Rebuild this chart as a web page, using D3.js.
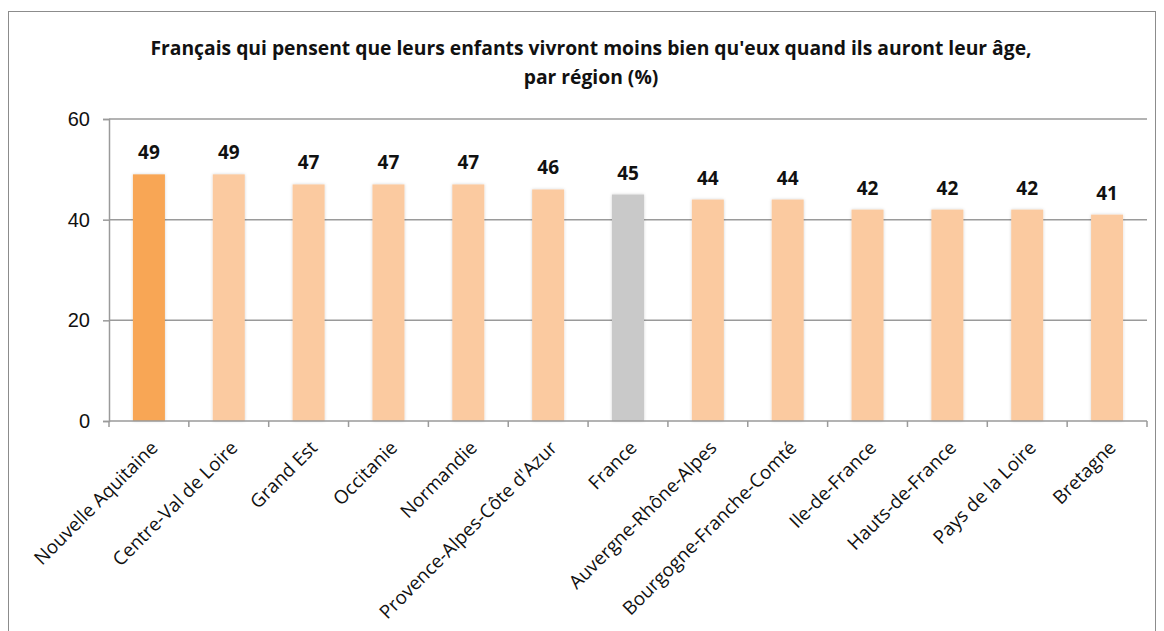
<!DOCTYPE html>
<html>
<head>
<meta charset="utf-8">
<script src="https://cdn.jsdelivr.net/npm/d3@7"></script>
<style>
  body { margin: 0; background: #fff; }
  svg { display: block; font-family: "Open Sans", "Liberation Sans", sans-serif; }
</style>
</head>
<body>
<svg id="chart"></svg>
<script>
// data
var regions = ["Nouvelle Aquitaine", "Centre-Val de Loire", "Grand Est", "Occitanie", "Normandie",
  "Provence-Alpes-Côte d'Azur", "France", "Auvergne-Rhône-Alpes", "Bourgogne-Franche-Comté",
  "Ile-de-France", "Hauts-de-France", "Pays de la Loire", "Bretagne"];
var values = [49, 49, 47, 47, 47, 46, 45, 44, 44, 42, 42, 42, 41];
var yTicks = [0, 20, 40, 60];
var titleLines = ["Français qui pensent que leurs enfants vivront moins bien qu'eux quand ils auront leur âge,",
  "par région (%)"];

var width = 1164, height = 631;
var svg = d3.select("#chart").attr("width", width).attr("height", height);

// soft shadow for bars
var defs = svg.append("defs");
var f = defs.append("filter").attr("id", "shadow").attr("x", "-20%").attr("y", "-5%").attr("width", "140%").attr("height", "110%");
f.append("feDropShadow").attr("dx", 0).attr("dy", 0).attr("stdDeviation", 1.5)
  .attr("flood-color", "#000").attr("flood-opacity", 0.18);

// outer frame
svg.append("rect")
  .attr("x", 8.5).attr("y", 11.5)
  .attr("width", 1147).attr("height", 640)
  .attr("fill", "none").attr("stroke", "#8c8c8c").attr("stroke-width", 1);

var plot = {left: 109, right: 1147, top: 119, bottom: 421};

var x = d3.scaleBand().domain(regions).range([plot.left, plot.right]).paddingInner(0).paddingOuter(0);
var y = d3.scaleLinear().domain([0, 60]).range([plot.bottom, plot.top]);

// title
svg.append("g").selectAll("text")
  .data(titleLines)
  .enter()
  .append("text")
  .attr("x", 591)
  .attr("y", function (d, i) { return 55 + i * 29; })
  .attr("text-anchor", "middle")
  .style("font-size", "19.3px")
  .style("font-weight", "bold")
  .attr("fill", "#111")
  .text(function (d) { return d; });

// gridlines
svg.append("g").selectAll("line")
  .data(yTicks.filter(function (d) { return d > 0; }))
  .enter()
  .append("line")
  .attr("x1", plot.left).attr("x2", plot.right)
  .attr("y1", function (d) { return y(d); })
  .attr("y2", function (d) { return y(d); })
  .attr("stroke", "#9a9a9a").attr("stroke-width", 1.5);

// y axis
var yAxis = svg.append("g")
  .attr("transform", "translate(" + plot.left + ",0)")
  .call(d3.axisLeft(y).tickValues(yTicks).tickSize(6).tickPadding(13));
yAxis.selectAll("path, line").attr("stroke", "#9a9a9a").attr("stroke-width", 1.5);
yAxis.selectAll("text").style("font-size", "20px").attr("fill", "#111").style("font-family", "inherit");

// bars
var colorFor = function (d, i) {
  if (d === "France") return "#c9c9c9";
  if (i === 0) return "#f8a654";
  return "#fbcaa0";
};
var barW = 32;
svg.append("g").selectAll("rect")
  .data(values)
  .enter()
  .append("rect")
  .attr("x", function (d, i) { return x(regions[i]) + x.bandwidth() / 2 - barW / 2; })
  .attr("y", function (d) { return y(d); })
  .attr("width", barW)
  .attr("height", function (d) { return y(0) - y(d); })
  .attr("fill", function (d, i) { return colorFor(regions[i], i); })
  .attr("filter", "url(#shadow)");

// value labels
svg.append("g").selectAll("text")
  .data(values)
  .enter()
  .append("text")
  .attr("x", function (d, i) { return x(regions[i]) + x.bandwidth() / 2; })
  .attr("y", function (d) { return y(d) - 15; })
  .attr("text-anchor", "middle")
  .style("font-size", "19px")
  .style("font-weight", "bold")
  .attr("fill", "#111")
  .text(function (d) { return d; });

// x axis
var xAxisG = svg.append("g").attr("transform", "translate(0," + plot.bottom + ")");
xAxisG.append("line")
  .attr("x1", plot.left).attr("x2", plot.right)
  .attr("stroke", "#9a9a9a").attr("stroke-width", 1.5);
var bounds = regions.map(function (r) { return x(r); }).concat([plot.right]);
xAxisG.selectAll("line.tick")
  .data(bounds)
  .enter()
  .append("line")
  .attr("class", "tick")
  .attr("x1", function (d) { return d; }).attr("x2", function (d) { return d; })
  .attr("y1", 0).attr("y2", 6)
  .attr("stroke", "#9a9a9a").attr("stroke-width", 1.5);

xAxisG.selectAll("text")
  .data(regions)
  .enter()
  .append("text")
  .attr("transform", function (d) {
    return "translate(" + (x(d) + x.bandwidth() / 2 + 10) + ",28) rotate(-45)";
  })
  .attr("text-anchor", "end")
  .style("font-size", "18.8px")
  .attr("fill", "#111")
  .text(function (d) { return d; });
</script>
</body>
</html>
